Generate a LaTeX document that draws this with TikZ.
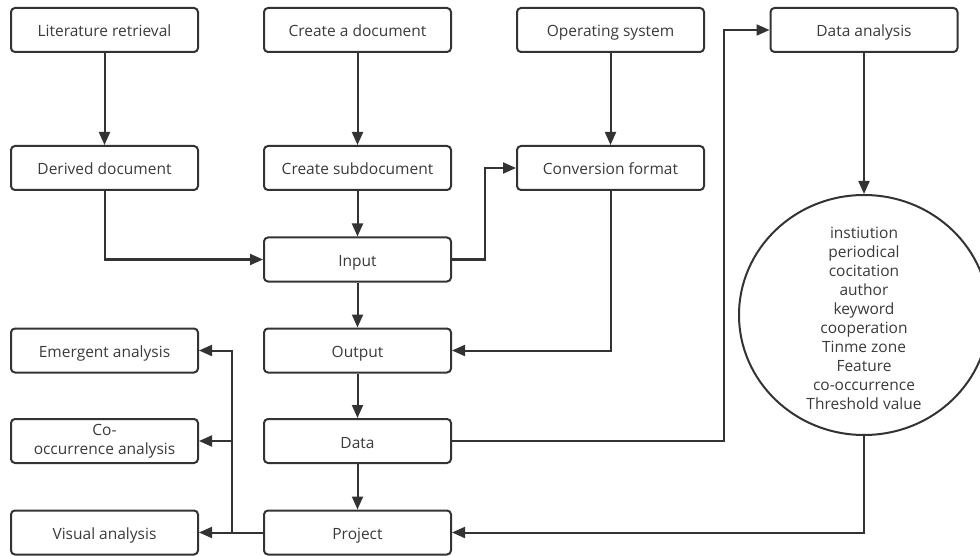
\documentclass[tikz,border=0pt]{standalone}
\usepackage{fontspec}
\setmainfont{Open Sans}
\usetikzlibrary{arrows.meta,shapes.geometric}
\definecolor{ln}{HTML}{333333}
\definecolor{tx}{HTML}{3A3A3A}
\begin{document}
\begin{tikzpicture}[x=1pt,y=-1pt,
  box/.style={draw=ln,line width=2pt,rounded corners=4pt,minimum width=187pt,minimum height=44pt,inner sep=0pt,align=center,text=tx,font=\fontsize{15.5}{19}\selectfont,text height=16pt,text depth=2pt},
  conn/.style={draw=ln,line width=2pt},
  arr/.style={conn,-{Triangle[length=13pt,width=11pt]}}]
\useasboundingbox (0,0) rectangle (980,556);
\node[box] (lit) at (104.5,30) {Literature retrieval};
\node[box] (der) at (104.5,168) {Derived document};
\node[box] (cdoc) at (357.5,30) {Create a document};
\node[box] (csub) at (357.5,168) {Create subdocument};
\node[box] (os) at (610.5,30) {Operating system};
\node[box] (conv) at (610.5,168) {Conversion format};
\node[box] (da) at (864,30) {Data analysis};
\node[box] (inp) at (357.5,259.5) {Input};
\node[box] (out) at (357.5,350.5) {Output};
\node[box] (dat) at (357.5,441) {Data};
\node[box] (proj) at (357.5,532.5) {Project};
\node[box] (em) at (104.5,350.5) {Emergent analysis};
\node[box,text height=,text depth=] (co) at (104.5,441) {Co-\\occurrence analysis};
\node[box] (vis) at (104.5,532.5) {Visual analysis};
\node[draw=ln,line width=2pt,ellipse,minimum width=250pt,minimum height=240pt,inner sep=0pt] (circ) at (864,315) {};
\node[align=center,text=tx,font=\fontsize{15.5}{19}\selectfont,inner sep=0pt] (circtext) at (864,318.5)
 {instiution\\periodical\\cocitation\\author\\keyword\\cooperation\\Tinme zone\\Feature\\co-occurrence\\Threshold value};
\coordinate (br) at (232,532.5);
\draw[arr] (lit) -- (der);
\draw[arr] (cdoc) -- (csub);
\draw[arr] (os) -- (conv);
\draw[arr] (da) -- (circ);
\draw[arr] (csub) -- (inp);
\draw[arr] (inp) -- (out);
\draw[arr] (out) -- (dat);
\draw[arr] (dat) -- (proj);
\draw[arr] (der.south) |- (inp.west);
\draw[arr] (inp.east) -- ++(33,0) |- (conv.west);
\draw[arr] (conv.south) |- (out.east);
\draw[arr] (dat.east) -- ++(271.5,0) |- (da.west);
\draw[arr] (circ.south) |- (proj.east);
\draw[conn] (proj.west) -- (br);
\draw[arr] (br) -- (vis.east);
\draw[arr] (br) |- (co.east);
\draw[arr] (br) |- (em.east);
\end{tikzpicture}
\end{document}
